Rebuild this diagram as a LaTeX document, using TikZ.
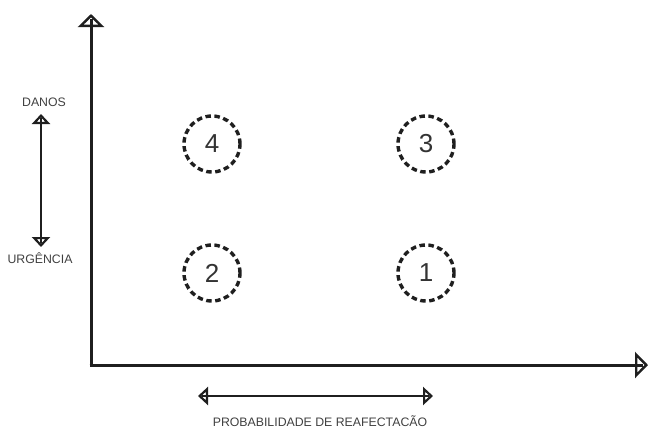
\documentclass[tikz,border=0pt]{standalone}
\usepackage{fontspec}
\setmainfont{Liberation Sans}
\usetikzlibrary{arrows.meta,calc}
\begin{document}
\begin{tikzpicture}[x=1pt,y=-1pt,
  axis/.style={line width=3pt,color=black!88,-{Triangle[open,length=13pt,width=26pt,line width=2.4pt]}},
  small/.style={line width=2.2pt,color=black!88,{Triangle[open,length=10pt,width=18pt,line width=2.2pt]}-{Triangle[open,length=10pt,width=18pt,line width=2.2pt]}},
  shaft/.style={line width=2.2pt,color=black!88},
  circ/.style={circle,draw=black!88,line width=3.4pt,dash pattern=on 5.5pt off 3.5pt,minimum size=56pt,inner sep=0pt,font=\fontsize{26}{26}\selectfont,text=black!80},
  lbl/.style={font=\fontsize{12.3}{12.3}\selectfont,text=black!75,inner sep=0pt}]
\useasboundingbox (0,0) rectangle (648,429);
\coordinate (O) at (91,365);
\coordinate (ytop) at (91,14);
\coordinate (xend) at (648,365);
\draw[axis] (O) -- (ytop);
\draw[shaft,line width=3pt] (O) -- ($(ytop)+(0,5)$);
\draw[axis] (89.5,365) -- (xend);
\draw[shaft,line width=3pt] (89.5,365) -- ($(xend)+(-5,0)$);
\node[circ] (c4) at (212,144) {4};
\node[circ] (c3) at (426,144) {3};
\node[circ] (c2) at (212,273) {2};
\node[circ] (c1) at (426,273) {1};
\node[lbl] (danos) at (44,102) {DANOS};
\node[lbl] (urg) at (40,258) {URGÊNCIA};
\coordinate (vt) at (41,114);
\coordinate (vb) at (41,247);
\draw[small] (vb) -- (vt);
\draw[shaft] ($(vb)+(0,-4)$) -- ($(vt)+(0,4)$);
\coordinate (hl) at (198,396);
\coordinate (hr) at (433,396);
\draw[small] (hl) -- (hr);
\draw[shaft] ($(hl)+(4,0)$) -- ($(hr)+(-4,0)$);
\node[lbl] (prob) at (320,421) {PROBABILIDADE DE REAFECTACÃO};
\end{tikzpicture}
\end{document}
